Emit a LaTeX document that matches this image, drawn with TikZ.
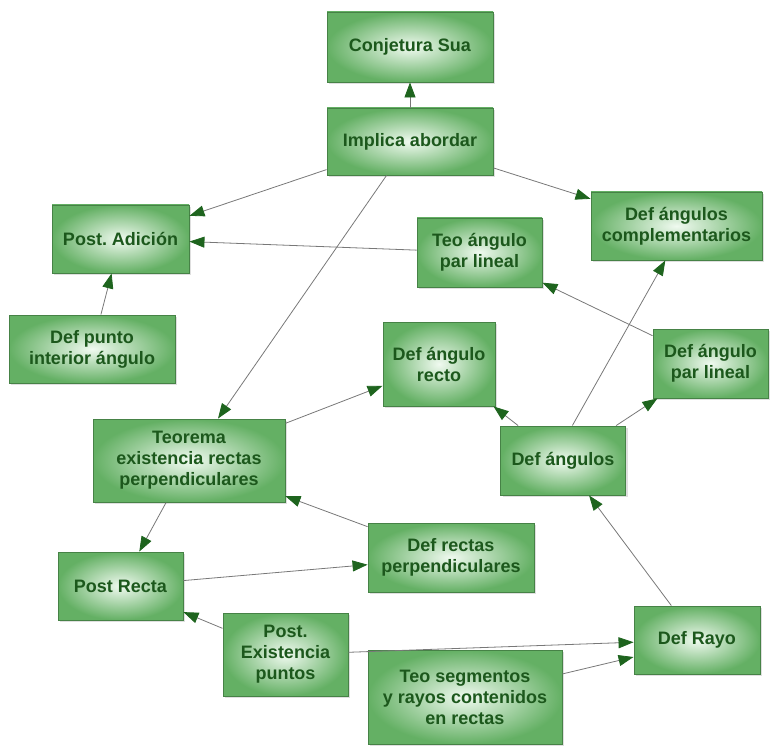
\documentclass[tikz,border=0pt]{standalone}
\usepackage{fontspec}
\setmainfont{Liberation Sans}
\usetikzlibrary{arrows.meta,shadows}
\frenchspacing

\definecolor{boxedge}{RGB}{70,130,70}
\definecolor{boxout}{RGB}{100,176,100}
\definecolor{boxin}{RGB}{240,250,240}
\definecolor{txtgreen}{RGB}{28,88,28}
\definecolor{tipgreen}{RGB}{30,100,30}
\definecolor{linegray}{RGB}{120,120,120}

\tikzset{
    concept/.style={rectangle, draw=boxedge, line width=0.9pt,
        inner color=boxin, outer color=boxout,
        drop shadow={shadow xshift=2pt, shadow yshift=-2pt, opacity=0.25},
        text=txtgreen, align=center, inner sep=0pt,
        font=\bfseries\fontsize{18}{21}\selectfont},
    rel/.style={draw=linegray, line width=0.8pt,
        -{Triangle[length=15pt,width=11pt,color=tipgreen]}}
}

\begin{document}
\begin{tikzpicture}[x=1pt,y=-1pt]

    \useasboundingbox (0,0) rectangle (772,749);

    \node[concept, minimum width=166, minimum height=70] (conjetura) at (410,47) {Conjetura Sua};
    \node[concept, minimum width=166, minimum height=67] (implica) at (410,141.5) {Implica abordar};
    \node[concept, minimum width=137, minimum height=68] (adicion) at (120.5,239) {Post. Adición};
    \node[concept, minimum width=125, minimum height=69] (teopar) at (479.5,252.5) {Teo ángulo\\par lineal};
    \node[concept, minimum width=171, minimum height=68] (compl) at (676.5,226) {Def ángulos\\complementarios};
    \node[concept, minimum width=166, minimum height=68] (punto) at (92,349) {Def punto\\interior ángulo};
    \node[concept, minimum width=112, minimum height=84] (recto) at (439,364) {Def ángulo\\recto};
    \node[concept, minimum width=115, minimum height=69] (defpar) at (710.5,363.5) {Def ángulo\\par lineal};
    \node[concept, minimum width=192, minimum height=83] (teorema) at (189,460.5) {Teorema\\existencia rectas\\perpendiculares};
    \node[concept, minimum width=125, minimum height=69] (angulos) at (563,460.5) {Def ángulos};
    \node[concept, minimum width=166, minimum height=69] (rectas) at (451,557.5) {Def rectas\\perpendiculares};
    \node[concept, minimum width=125, minimum height=68] (postrecta) at (120.5,586) {Post Recta};
    \node[concept, minimum width=125, minimum height=83] (existencia) at (285.5,654.5) {Post.\\Existencia\\puntos};
    \node[concept, minimum width=126, minimum height=68] (rayo) at (697,640) {Def Rayo};
    \node[concept, minimum width=194, minimum height=94] (segmentos) at (465,697) {Teo segmentos\\y rayos contenidos\\en rectas};

    \draw[rel] (implica) -- (conjetura);
    \draw[rel] (implica) -- (adicion);
    \draw[rel] (implica) -- (compl);
    \draw[rel] (implica) -- (teorema);
    \draw[rel] (teopar) -- (adicion);
    \draw[rel] (punto) -- (adicion);
    \draw[rel] (defpar) -- (teopar);
    \draw[rel] (teorema) -- (recto);
    \draw[rel] (angulos) -- (recto);
    \draw[rel] (angulos.75) -- (compl.-108);
    \draw[rel] (angulos) -- (defpar);
    \draw[rel] (teorema) -- (postrecta);
    \draw[rel] (rectas) -- (teorema);
    \draw[rel] (postrecta) -- (rectas);
    \draw[rel] (existencia) -- (postrecta);
    \draw[rel] (existencia) -- (rayo);
    \draw[rel] (segmentos) -- (rayo.-165);
    \draw[rel] (rayo) -- (angulos);

\end{tikzpicture}
\end{document}
